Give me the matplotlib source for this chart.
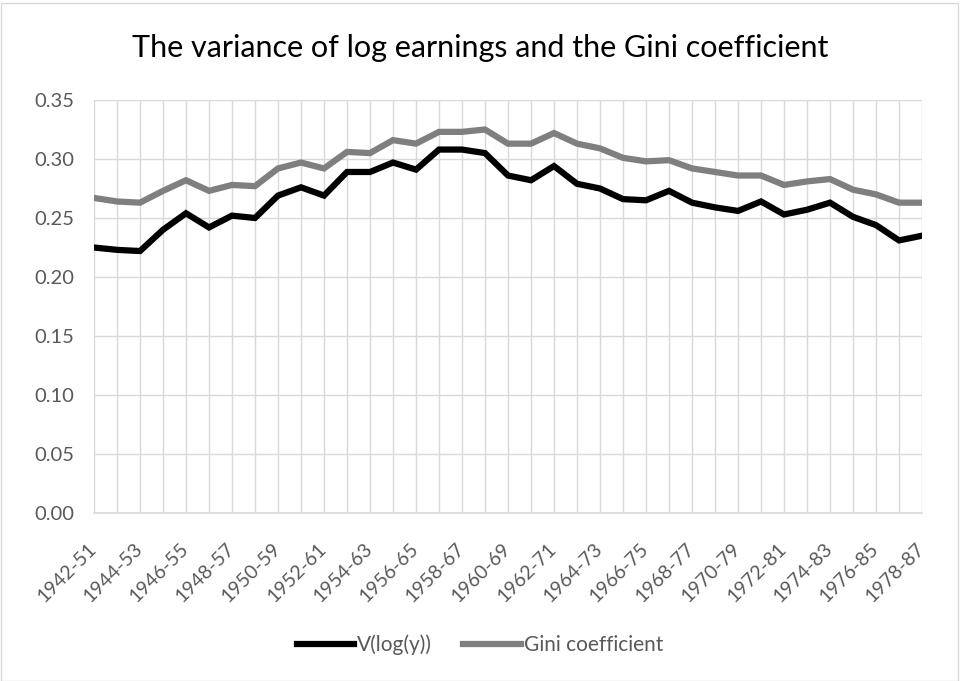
import numpy as np
import matplotlib.pyplot as plt
from matplotlib.patches import Rectangle

plt.rcParams['font.family'] = ['Lato', 'DejaVu Sans']

periods = ['%d-%02d' % (y, (y + 9) % 100) for y in range(1942, 1979)]

v_log_y = [0.225, 0.223, 0.222, 0.240, 0.254, 0.242, 0.252, 0.250, 0.269, 0.276,
           0.269, 0.289, 0.289, 0.297, 0.291, 0.308, 0.308, 0.305, 0.286, 0.282,
           0.294, 0.279, 0.275, 0.266, 0.265, 0.273, 0.263, 0.259, 0.256, 0.264,
           0.253, 0.257, 0.263, 0.251, 0.244, 0.231, 0.235]

gini = [0.267, 0.264, 0.263, 0.273, 0.282, 0.273, 0.278, 0.277, 0.292, 0.297,
        0.292, 0.306, 0.305, 0.316, 0.313, 0.323, 0.323, 0.325, 0.313, 0.313,
        0.322, 0.313, 0.309, 0.301, 0.298, 0.299, 0.292, 0.289, 0.286, 0.286,
        0.278, 0.281, 0.283, 0.274, 0.270, 0.263, 0.263]

fig = plt.figure(figsize=(9.6, 6.81), dpi=100)
ax = fig.add_axes([94 / 960, 1 - 513 / 681, (922 - 94) / 960, (513 - 100) / 681])

x = np.arange(len(periods))
ax.plot(x, v_log_y, color='black', lw=4.5, label='V(log(y))', solid_joinstyle='miter')
ax.plot(x, gini, color='#7f7f7f', lw=4.5, label='Gini coefficient', solid_joinstyle='miter')

ax.set_xlim(0, len(periods) - 1)
ax.set_ylim(0, 0.35)
ax.set_yticks(np.arange(0, 0.351, 0.05))
ax.set_yticklabels(['%.2f' % v for v in np.arange(0, 0.351, 0.05)])
ax.set_xticks(x)
ax.set_xticklabels([p if i % 2 == 0 else '' for i, p in enumerate(periods)],
                   rotation=45, ha='right', va='center', rotation_mode='anchor')
ax.grid(True, color='#d9d9d9', lw=1)
ax.set_axisbelow(True)
for s in ['top', 'right', 'left']:
    ax.spines[s].set_visible(False)
ax.spines['bottom'].set_color('#d9d9d9')
ax.spines['bottom'].set_linewidth(1.2)
ax.tick_params(length=0, labelcolor='#595959')
ax.tick_params(axis='y', pad=14, labelsize=14.5)
ax.tick_params(axis='x', pad=24, labelsize=14)

fig.text(0.5, 1 - 48 / 681, 'The variance of log earnings and the Gini coefficient',
         ha='center', va='center', fontsize=22, color='black')

fig.legend(loc='center', bbox_to_anchor=(0.5, 1 - 645 / 681), ncol=2, frameon=False,
           fontsize=15, labelcolor='#595959', handlelength=2.75, columnspacing=1.5,
           handletextpad=0.15)

fig.patches.append(Rectangle((0.5 / 960, 0.5 / 681), 957 / 960, 678 / 681,
                             transform=fig.transFigure, fill=False,
                             edgecolor='#d9d9d9', lw=1))

fig.savefig('out.png', dpi=100)
